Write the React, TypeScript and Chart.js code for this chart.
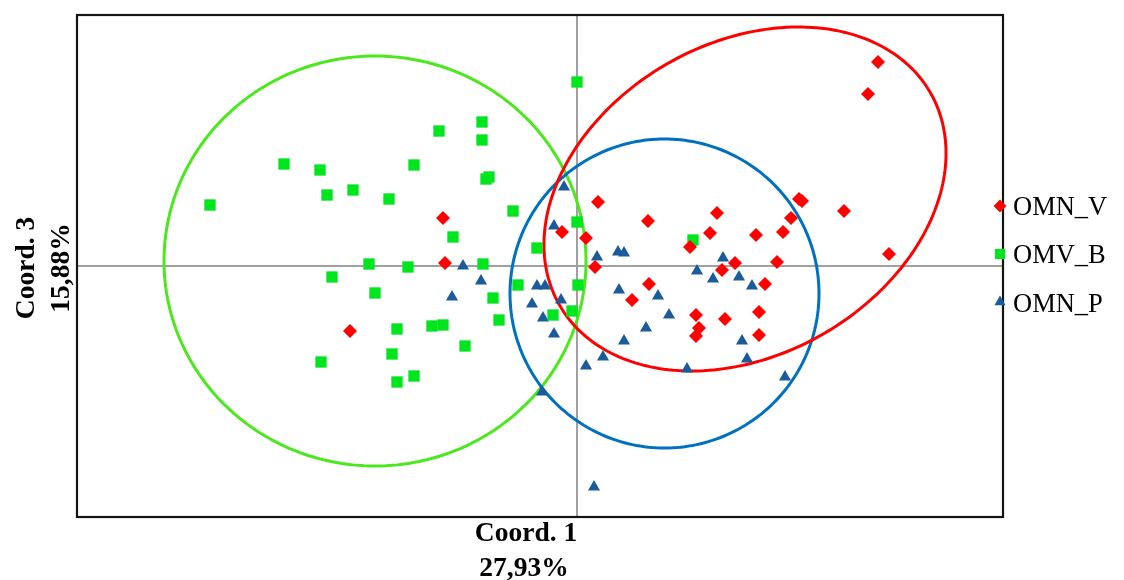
import { useEffect, useRef } from 'react';
import { Chart, registerables } from 'chart.js';

Chart.register(...registerables);

// ---- Data (Coord. 1 on x, Coord. 3 on y) ----
const seriesNames = ['OMN_V', 'OMV_B', 'OMN_P'];

const omnVx = [3.01, 2.91, 0.21, 0.71, 1.40, 2.22, 2.25, 2.67, 2.14, -1.34, -0.15, 0.09, 1.33, 1.79, 2.06, 1.13, 3.12, -1.32, 0.18, 1.58, 1.45, 2.00, 0.72, 1.88, 0.55, 1.19, 1.48, 1.82, 1.22, 1.19, 1.82, -2.27];
const omnVy = [2.04, 1.72, 0.64, 0.45, 0.53, 0.67, 0.65, 0.55, 0.48, 0.48, 0.34, 0.28, 0.33, 0.31, 0.34, 0.19, 0.12, 0.03, -0.01, 0.03, -0.04, 0.04, -0.18, -0.18, -0.34, -0.49, -0.53, -0.46, -0.62, -0.70, -0.69, -0.65];

const omvBx = [0.00, -0.95, -1.38, -0.95, -2.93, -2.57, -1.63, -0.88, -0.91, -3.67, -2.50, -2.24, -1.88, -0.64, 0.00, -1.24, -0.40, -2.08, -1.69, -0.94, -2.45, -0.59, 0.01, -2.02, -0.84, -0.78, -1.80, -1.45, -1.34, -1.12, -1.85, -2.56, -1.63, -1.80, -0.24, -0.05, 1.16];
const omvBy = [1.84, 1.44, 1.35, 1.26, 1.02, 0.96, 1.01, 0.89, 0.87, 0.61, 0.71, 0.76, 0.67, 0.55, 0.44, 0.29, 0.18, 0.02, -0.01, 0.02, -0.11, -0.19, -0.19, -0.27, -0.32, -0.54, -0.63, -0.60, -0.59, -0.80, -0.88, -0.96, -1.10, -1.16, -0.49, -0.45, 0.26];

const omnPx = [-0.13, -0.23, 0.20, 0.41, 0.47, -1.14, -0.96, -0.40, -0.32, -1.25, -0.45, -0.16, -0.34, -0.23, 1.46, 1.20, 1.36, 1.62, 1.75, 0.42, 0.81, 0.92, 0.69, 0.47, 1.65, 0.26, 0.09, 1.70, 1.10, 2.08, -0.35, 0.17];
const omnPy = [0.79, 0.40, 0.09, 0.14, 0.13, 0.00, -0.15, -0.20, -0.20, -0.31, -0.38, -0.34, -0.52, -0.68, 0.08, -0.05, -0.13, -0.11, -0.20, -0.24, -0.30, -0.49, -0.62, -0.75, -0.75, -0.91, -1.00, -0.93, -1.03, -1.11, -1.26, -2.21];

// Group ellipses (drawing order: OMV_B, OMN_P, OMN_V)
const ellipseNames = ['OMV_B', 'OMN_P', 'OMN_V'];
const ellipseCx = [-2.02, 0.875, 1.68];
const ellipseCy = [0.05, -0.275, 0.67];
const ellipseA = [2.11, 1.545, 2.137];
const ellipseB = [2.05, 1.545, 1.56];
const ellipseAngleDeg = [0, 0, 29.75];

const axisRangeX = [-5.0, 4.26];
const axisRangeY = [-2.51, 2.51];

const xTitle = ['Coord. 1', '27,93%'];
const yTitle = ['Coord. 3', '15,88%'];

// ---- Styles ----
const pointColors = ['#ff0000', '#00e61e', '#1b5b9b'];
const pointStyles = ['rectRot', 'rect', 'triangle'];
const pointRadii = [7, 8, 7];
const ellipseColors: Record<string, string> = { OMV_B: '#4ce81e', OMN_P: '#0070c0', OMN_V: '#ff0000' };

function marker(ctx: CanvasRenderingContext2D, style: string, x: number, y: number, r: number, color: string) {
  ctx.save();
  ctx.fillStyle = color;
  ctx.beginPath();
  if (style === 'rectRot') {
    ctx.moveTo(x, y - r);
    ctx.lineTo(x + r, y);
    ctx.lineTo(x, y + r);
    ctx.lineTo(x - r, y);
  } else if (style === 'rect') {
    const s = r * Math.SQRT1_2;
    ctx.rect(x - s, y - s, 2 * s, 2 * s);
  } else {
    ctx.moveTo(x, y - r);
    ctx.lineTo(x + r * Math.sin(Math.PI / 3), y + r * 0.5);
    ctx.lineTo(x - r * Math.sin(Math.PI / 3), y + r * 0.5);
  }
  ctx.closePath();
  ctx.fill();
  ctx.restore();
}

const decorPlugin = {
  id: 'decor',
  beforeDatasetsDraw(chart: any) {
    const { ctx } = chart;
    const xs = chart.scales.x;
    const ys = chart.scales.y;
    ctx.save();
    ctx.beginPath();
    ctx.rect(chart.chartArea.left, chart.chartArea.top, chart.chartArea.right - chart.chartArea.left, chart.chartArea.bottom - chart.chartArea.top);
    ctx.clip();
    ellipseNames.forEach((name, i) => {
      const th = (ellipseAngleDeg[i] * Math.PI) / 180;
      ctx.beginPath();
      const n = 240;
      for (let k = 0; k <= n; k++) {
        const t = (k / n) * Math.PI * 2;
        const dx = ellipseA[i] * Math.cos(t) * Math.cos(th) - ellipseB[i] * Math.sin(t) * Math.sin(th);
        const dy = ellipseA[i] * Math.cos(t) * Math.sin(th) + ellipseB[i] * Math.sin(t) * Math.cos(th);
        const px = xs.getPixelForValue(ellipseCx[i] + dx);
        const py = ys.getPixelForValue(ellipseCy[i] + dy);
        if (k === 0) ctx.moveTo(px, py);
        else ctx.lineTo(px, py);
      }
      ctx.closePath();
      ctx.strokeStyle = ellipseColors[name];
      ctx.lineWidth = 3;
      ctx.stroke();
    });
    ctx.restore();
  },
  afterDraw(chart: any) {
    const { ctx, chartArea: a } = chart;
    ctx.save();
    // frame
    ctx.strokeStyle = '#141414';
    ctx.lineWidth = 2.2;
    ctx.strokeRect(a.left, a.top, a.right - a.left, a.bottom - a.top);

    // legend
    const legY = [206, 254, 302];
    const legBase = [215, 263, 312];
    seriesNames.forEach((name, i) => {
      marker(ctx, pointStyles[i], 1000, legY[i], i === 1 ? 7.2 : 6.4, pointColors[i]);
      ctx.fillStyle = '#000000';
      ctx.font = '26.5px "Liberation Serif"';
      ctx.textAlign = 'left';
      ctx.textBaseline = 'alphabetic';
      ctx.fillText(name, 1013, legBase[i]);
    });

    // axis titles
    ctx.font = 'bold 27.5px "Liberation Serif"';
    ctx.fillStyle = '#000000';
    ctx.textAlign = 'center';
    ctx.textBaseline = 'alphabetic';
    ctx.fillText(xTitle[0], 526, 541);
    ctx.fillText(xTitle[1], 524, 576);

    ctx.translate(0, 268);
    ctx.rotate(-Math.PI / 2);
    ctx.fillText(yTitle[0], 0, 34);
    ctx.fillText(yTitle[1], 0, 69);
    ctx.restore();
  },
};

export default function App() {
  const ref = useRef<HTMLCanvasElement | null>(null);

  useEffect(() => {
    if (!ref.current) return;
    const mk = (xs: number[], ysArr: number[]) => xs.map((v, i) => ({ x: v, y: ysArr[i] }));
    const groups = [mk(omnVx, omnVy), mk(omvBx, omvBy), mk(omnPx, omnPy)];
    const chart = new Chart(ref.current, {
      type: 'scatter',
      data: {
        datasets: seriesNames.map((name, i) => ({
          label: name,
          data: groups[i],
          pointStyle: pointStyles[i] as any,
          pointRadius: pointRadii[i],
          pointHoverRadius: pointRadii[i],
          backgroundColor: pointColors[i],
          borderColor: pointColors[i],
          borderWidth: 0,
        })),
      },
      options: {
        responsive: false,
        animation: false,
        layout: { padding: { top: 15, right: 121, left: 0, bottom: 0 } },
        plugins: {
          legend: { display: false },
          tooltip: { enabled: false },
          title: { display: false },
        },
        scales: {
          x: {
            type: 'linear',
            min: axisRangeX[0],
            max: axisRangeX[1],
            ticks: { display: false },
            border: { display: false },
            grid: { color: '#a0a0a0', lineWidth: 2, drawTicks: false },
            afterBuildTicks: (s: any) => { s.ticks = [{ value: 0 }]; },
            afterFit: (s: any) => { s.height = 63; },
          },
          y: {
            type: 'linear',
            min: axisRangeY[0],
            max: axisRangeY[1],
            ticks: { display: false },
            border: { display: false },
            grid: { color: '#a0a0a0', lineWidth: 2, drawTicks: false },
            afterBuildTicks: (s: any) => { s.ticks = [{ value: 0 }]; },
            afterFit: (s: any) => { s.width = 77; },
          },
        },
      },
      plugins: [decorPlugin],
    });
    return () => chart.destroy();
  }, []);

  return (
    <div style={{ position: 'fixed', left: 0, top: 0, width: 1124, height: 580, background: '#ffffff' }}>
      <canvas ref={ref} width={1124} height={580} style={{ width: 1124, height: 580 }} />
    </div>
  );
}
